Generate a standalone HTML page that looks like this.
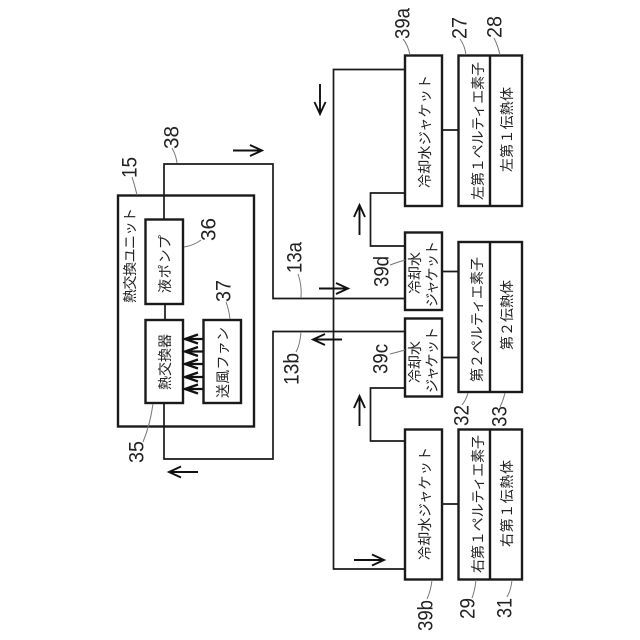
<!DOCTYPE html>
<html>
<head>
<meta charset="utf-8">
<style>
html,body{margin:0;padding:0;background:#fff;}
svg{display:block;}
text{fill:#222;}
.n{font-family:"Liberation Sans",sans-serif;font-size:21px;dominant-baseline:central;}
.j{font-family:"Noto Sans CJK JP","Liberation Sans",sans-serif;font-size:14px;dominant-baseline:central;}
.b{fill:none;stroke:#1a1a1a;stroke-width:2.4;}
.l{fill:none;stroke:#1a1a1a;stroke-width:1.7;}
.a{fill:none;stroke:#111;stroke-width:1.9;}
.t{fill:none;stroke:#777;stroke-width:1;}
</style>
</head>
<body>
<svg width="640" height="640" viewBox="0 0 640 640" xmlns="http://www.w3.org/2000/svg">
<rect width="640" height="640" fill="#fff"/>

<!-- connectors -->
<path class="l" d="M164 219V164H273V298.500H405"/>
<path class="l" d="M164 403V459H273V331.500H405"/>
<path class="l" d="M405 69.500H333.500V569H405"/>
<path class="l" d="M405 193H370.500V246H405"/>
<path class="l" d="M405 388H370.500V441H405"/>
<path class="l" d="M165 304V320"/>
<path class="l" d="M442 130H458M442 271.500H458M442 357.500H458M442 504H458"/>

<!-- boxes -->
<rect class="b" x="118" y="195.500" width="136" height="231"/>
<rect class="b" x="145.500" y="219.500" width="37.500" height="84.500"/>
<rect class="b" x="145.500" y="320" width="37.500" height="83"/>
<rect class="b" x="203.500" y="320" width="37.500" height="83"/>
<rect class="b" x="405" y="55.500" width="37" height="150.500"/>
<rect class="b" x="405" y="232.500" width="37" height="77.500"/>
<rect class="b" x="405" y="318.500" width="37" height="78"/>
<rect class="b" x="405" y="429.500" width="37" height="150"/>
<rect class="b" x="458.500" y="55.500" width="63.500" height="150.500"/>
<path class="b" d="M490 55.500V206"/>
<rect class="b" x="458.500" y="242" width="63.500" height="150"/>
<path class="b" d="M490 242V392"/>
<rect class="b" x="458.500" y="429.500" width="63.500" height="150"/>
<path class="b" d="M490 429.500V579.500"/>

<!-- fan arrows -->
<g class="a" style="stroke-width:2.3">
<path d="M203 339H185M198 334.500L185 339L198 343.500"/>
<path d="M203 351.500H185M198 347L185 351.500L198 356"/>
<path d="M203 364H185M198 359.500L185 364L198 368.500"/>
<path d="M203 377H185M198 372.500L185 377L198 381.500"/>
<path d="M203 389H185M198 384.500L185 389L198 393.500"/>
</g>

<!-- flow arrows -->
<g class="a">
<path d="M233 150.500H262M250 145L262 150.500L250 156"/>
<path d="M198 472H169M181 466.500L169 472L181 477.500"/>
<path d="M320 84V114M314.500 102L320 114L325.500 102"/>
<path d="M359.500 235V205M354 217L359.500 205L365 217"/>
<path d="M359.500 426V396M354 408L359.500 396L365 408"/>
<path d="M319 288.500H348M336 283L348 288.500L336 294"/>
<path d="M342 339.500H313M325 334L313 339.500L325 345"/>
<path d="M354 560H384M372 554.500L384 560L372 565.500"/>
</g>

<!-- leaders -->
<path class="t" d="M177 163Q176 155 172 148"/>
<path class="t" d="M137 195Q135 186 132 177"/>
<path class="t" d="M184 247Q195 245 201 240"/>
<path class="t" d="M230 319Q229 310 226 302"/>
<path class="t" d="M301 298Q302 285 298 274"/>
<path class="t" d="M301 332Q300 345 296 352"/>
<path class="t" d="M153 404Q150 425 143 442"/>
<path class="t" d="M410 55Q408 45 403 39"/>
<path class="t" d="M466 55Q465 46 460 39"/>
<path class="t" d="M500 55Q498 46 494 38"/>
<path class="t" d="M405 260Q398 262 390 265"/>
<path class="t" d="M405 350Q398 352 390 354"/>
<path class="t" d="M468 393Q466 400 462 405"/>
<path class="t" d="M505 393Q503 401 500 407"/>
<path class="t" d="M432 580Q431 590 427 599"/>
<path class="t" d="M476 580Q475 590 472 598"/>
<path class="t" d="M512 580Q511 590 507 597"/>

<!-- numbers -->
<text class="n" transform="translate(172 149) rotate(-90)" textLength="23" lengthAdjust="spacingAndGlyphs">38</text>
<text class="n" transform="translate(130 178) rotate(-90)" textLength="21" lengthAdjust="spacingAndGlyphs">15</text>
<text class="n" transform="translate(209 241) rotate(-90)" textLength="23" lengthAdjust="spacingAndGlyphs">36</text>
<text class="n" transform="translate(224 302) rotate(-90)" textLength="22" lengthAdjust="spacingAndGlyphs">37</text>
<text class="n" transform="translate(295 273) rotate(-90)" textLength="31" lengthAdjust="spacingAndGlyphs">13a</text>
<text class="n" transform="translate(292 385) rotate(-90)" textLength="32" lengthAdjust="spacingAndGlyphs">13b</text>
<text class="n" transform="translate(137 463) rotate(-90)" textLength="22" lengthAdjust="spacingAndGlyphs">35</text>
<text class="n" transform="translate(403 39) rotate(-90)" textLength="31" lengthAdjust="spacingAndGlyphs">39a</text>
<text class="n" transform="translate(460 39) rotate(-90)" textLength="22" lengthAdjust="spacingAndGlyphs">27</text>
<text class="n" transform="translate(495 38) rotate(-90)" textLength="22" lengthAdjust="spacingAndGlyphs">28</text>
<text class="n" transform="translate(382 287) rotate(-90)" textLength="31" lengthAdjust="spacingAndGlyphs">39d</text>
<text class="n" transform="translate(381 374) rotate(-90)" textLength="30" lengthAdjust="spacingAndGlyphs">39c</text>
<text class="n" transform="translate(462 426) rotate(-90)" textLength="21" lengthAdjust="spacingAndGlyphs">32</text>
<text class="n" transform="translate(500 427) rotate(-90)" textLength="21" lengthAdjust="spacingAndGlyphs">33</text>
<text class="n" transform="translate(426 631) rotate(-90)" textLength="31" lengthAdjust="spacingAndGlyphs">39b</text>
<text class="n" transform="translate(468 619) rotate(-90)" textLength="21" lengthAdjust="spacingAndGlyphs">29</text>
<text class="n" transform="translate(505 618) rotate(-90)" textLength="20" lengthAdjust="spacingAndGlyphs">31</text>

<!-- Japanese labels -->
<text class="j" transform="translate(130 303) rotate(-90)" textLength="95">熱交換ユニット</text>
<text class="j" transform="translate(165 293) rotate(-90)" textLength="58">液ポンプ</text>
<text class="j" transform="translate(165 390) rotate(-90)" textLength="56">熱交換器</text>
<text class="j" transform="translate(223 398) rotate(-90)" textLength="71">送風ファン</text>
<text class="j" transform="translate(425 188) rotate(-90)" textLength="113">冷却水ジャケット</text>
<text class="j" transform="translate(425 560) rotate(-90)" textLength="113">冷却水ジャケット</text>
<text class="j" transform="translate(415 294) rotate(-90)" textLength="42">冷却水</text>
<text class="j" transform="translate(432 307) rotate(-90)" textLength="66">ジャケット</text>
<text class="j" transform="translate(415 383) rotate(-90)" textLength="42">冷却水</text>
<text class="j" transform="translate(432 393) rotate(-90)" textLength="66">ジャケット</text>
<text class="j" transform="translate(478 200) rotate(-90)" textLength="138">左第１ペルティエ素子</text>
<text class="j" transform="translate(507 172) rotate(-90)" textLength="85">左第１伝熱体</text>
<text class="j" transform="translate(477 382) rotate(-90)" textLength="125">第２ペルティエ素子</text>
<text class="j" transform="translate(507 350) rotate(-90)" textLength="70">第２伝熱体</text>
<text class="j" transform="translate(478 573) rotate(-90)" textLength="138">右第１ペルティエ素子</text>
<text class="j" transform="translate(507 547) rotate(-90)" textLength="87">右第１伝熱体</text>
</svg>
</body>
</html>
